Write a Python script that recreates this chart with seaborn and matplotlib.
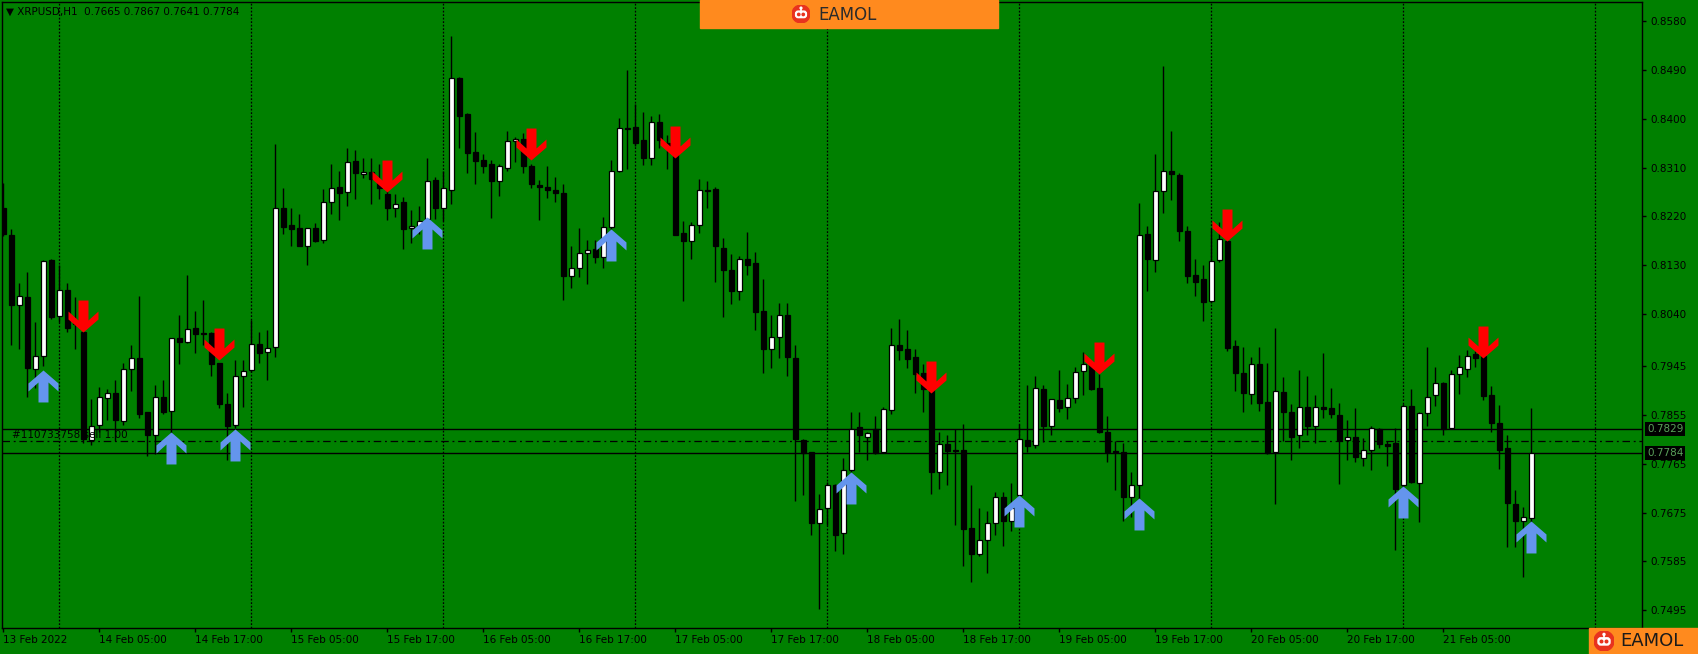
import matplotlib
matplotlib.use("Agg")
import matplotlib.pyplot as plt
import matplotlib.transforms as mtransforms
from matplotlib.path import Path
from matplotlib.patches import Rectangle, Circle, FancyBboxPatch
import seaborn as sns

# hourly XRPUSD bars (bar 0 = 13 Feb 17:00)
opens = [0.8236, 0.8186, 0.8057, 0.8071, 0.7939, 0.7964, 0.8139, 0.8036, 0.8084, 0.8025,
         0.8008, 0.7808, 0.7836, 0.7886, 0.7895, 0.7843, 0.7939, 0.7960, 0.7860, 0.7817,
         0.7888, 0.7862, 0.7996, 0.7989, 0.8015, 0.8006, 0.8006, 0.7951, 0.7875, 0.7836,
         0.7927, 0.7937, 0.7986, 0.7970, 0.7979, 0.8235, 0.8205, 0.8198, 0.8166, 0.8198,
         0.8177, 0.8247, 0.8274, 0.8265, 0.8322, 0.8298, 0.8301, 0.8286, 0.8261, 0.8236,
         0.8247, 0.8198, 0.8198, 0.8215, 0.8287, 0.8236, 0.8268, 0.8474, 0.8409, 0.8339,
         0.8324, 0.8317, 0.8286, 0.8310, 0.8358, 0.8363, 0.8312, 0.8277, 0.8274, 0.8268,
         0.8263, 0.8111, 0.8125, 0.8153, 0.8160, 0.8146, 0.8200, 0.8303, 0.8382, 0.8384,
         0.8360, 0.8327, 0.8393, 0.8356, 0.8339, 0.8189, 0.8174, 0.8205, 0.8268, 0.8270,
         0.8162, 0.8122, 0.8083, 0.8141, 0.8134, 0.8046, 0.7976, 0.7998, 0.8039, 0.7960,
         0.7808, 0.7786, 0.7655, 0.7684, 0.7726, 0.7638, 0.7754, 0.7832, 0.7815, 0.7828,
         0.7787, 0.7863, 0.7984, 0.7976, 0.7962, 0.7932, 0.7902, 0.7749, 0.7801, 0.7791,
         0.7791, 0.7646, 0.7599, 0.7625, 0.7655, 0.7703, 0.7659, 0.7708, 0.7808, 0.7800,
         0.7902, 0.7834, 0.7883, 0.7869, 0.7886, 0.7935, 0.7948, 0.7905, 0.7824, 0.7789,
         0.7786, 0.7703, 0.7726, 0.8187, 0.8139, 0.8266, 0.8303, 0.8296, 0.8194, 0.8113,
         0.8104, 0.8064, 0.8139, 0.8174, 0.7981, 0.7932, 0.7893, 0.7948, 0.7879, 0.7787,
         0.7897, 0.7860, 0.7817, 0.7870, 0.7834, 0.7869, 0.7867, 0.7855, 0.7808, 0.7814,
         0.7775, 0.7791, 0.7829, 0.7801, 0.7803, 0.7726, 0.7872, 0.7729, 0.7858, 0.7891,
         0.7913, 0.7830, 0.7930, 0.7940, 0.7966, 0.7963, 0.7891, 0.7839, 0.7793, 0.7690,
         0.7660, 0.7665]
highs = [0.8282, 0.8196, 0.8097, 0.8117, 0.8025, 0.8139, 0.8141, 0.8131, 0.8097, 0.8071,
         0.8018, 0.7884, 0.7907, 0.7902, 0.7919, 0.7951, 0.7983, 0.8074, 0.7860, 0.7909,
         0.7919, 0.7996, 0.8039, 0.8113, 0.8046, 0.8067, 0.8008, 0.7951, 0.7895, 0.7955,
         0.7955, 0.8029, 0.8008, 0.8011, 0.8353, 0.8273, 0.8236, 0.8224, 0.8199, 0.8208,
         0.8270, 0.8317, 0.8303, 0.8346, 0.8342, 0.8328, 0.8328, 0.8317, 0.8286, 0.8261,
         0.8256, 0.8231, 0.8240, 0.8328, 0.8293, 0.8303, 0.8552, 0.8476, 0.8411, 0.8376,
         0.8335, 0.8324, 0.8317, 0.8378, 0.8367, 0.8374, 0.8317, 0.8287, 0.8312, 0.8293,
         0.8280, 0.8165, 0.8198, 0.8177, 0.8177, 0.8219, 0.8324, 0.8402, 0.8490, 0.8427,
         0.8412, 0.8405, 0.8409, 0.8370, 0.8342, 0.8212, 0.8209, 0.8289, 0.8286, 0.8275,
         0.8180, 0.8150, 0.8148, 0.8191, 0.8155, 0.8104, 0.8038, 0.8060, 0.8060, 0.7984,
         0.7810, 0.7787, 0.7710, 0.7731, 0.7728, 0.7775, 0.7860, 0.7860, 0.7824, 0.7853,
         0.7870, 0.8015, 0.8032, 0.8011, 0.7976, 0.7948, 0.7906, 0.7824, 0.7817, 0.7828,
         0.7838, 0.7726, 0.7684, 0.7677, 0.7712, 0.7712, 0.7730, 0.7838, 0.7909, 0.7927,
         0.7909, 0.7884, 0.7937, 0.7912, 0.7942, 0.7970, 0.7951, 0.7930, 0.7853, 0.7807,
         0.7803, 0.7749, 0.8245, 0.8203, 0.8334, 0.8496, 0.8377, 0.8300, 0.8203, 0.8141,
         0.8131, 0.8198, 0.8210, 0.8177, 0.7993, 0.7979, 0.7962, 0.7979, 0.7951, 0.8015,
         0.7925, 0.7874, 0.7937, 0.7927, 0.7891, 0.7969, 0.7904, 0.7877, 0.7845, 0.7867,
         0.7812, 0.7834, 0.7831, 0.7807, 0.7831, 0.7874, 0.7902, 0.7860, 0.7979, 0.7943,
         0.7916, 0.7938, 0.7965, 0.7975, 0.7973, 0.7975, 0.7908, 0.7873, 0.7817, 0.7717,
         0.7685, 0.7867]
lows = [0.8184, 0.7983, 0.7976, 0.7888, 0.7905, 0.7944, 0.8032, 0.8025, 0.8008, 0.7976,
        0.7803, 0.7800, 0.7824, 0.7845, 0.7807, 0.7836, 0.7898, 0.7849, 0.7779, 0.7782,
        0.7856, 0.7821, 0.7948, 0.7987, 0.7969, 0.7983, 0.7927, 0.7867, 0.7772, 0.7831,
        0.7870, 0.7934, 0.7951, 0.7919, 0.7962, 0.8187, 0.8166, 0.8165, 0.8131, 0.8173,
        0.8172, 0.8224, 0.8213, 0.8240, 0.8252, 0.8291, 0.8243, 0.8252, 0.8214, 0.8219,
        0.8160, 0.8172, 0.8187, 0.8208, 0.8215, 0.8212, 0.8242, 0.8346, 0.8300, 0.8280,
        0.8300, 0.8217, 0.8258, 0.8303, 0.8321, 0.8300, 0.8272, 0.8214, 0.8254, 0.8247,
        0.8066, 0.8089, 0.8108, 0.8096, 0.8134, 0.8125, 0.8196, 0.8301, 0.8308, 0.8349,
        0.8314, 0.8314, 0.8346, 0.8307, 0.8186, 0.8064, 0.8141, 0.8189, 0.8235, 0.8099,
        0.8034, 0.8059, 0.8067, 0.8113, 0.8011, 0.7932, 0.7941, 0.7960, 0.7927, 0.7696,
        0.7708, 0.7634, 0.7497, 0.7653, 0.7604, 0.7599, 0.7750, 0.7786, 0.7772, 0.7782,
        0.7784, 0.7856, 0.7955, 0.7941, 0.7895, 0.7860, 0.7710, 0.7719, 0.7726, 0.7652,
        0.7576, 0.7548, 0.7596, 0.7564, 0.7634, 0.7613, 0.7641, 0.7666, 0.7786, 0.7793,
        0.7805, 0.7818, 0.7860, 0.7848, 0.7876, 0.7891, 0.7900, 0.7822, 0.7768, 0.7717,
        0.7660, 0.7666, 0.7694, 0.8083, 0.8117, 0.8226, 0.8250, 0.8174, 0.8097, 0.8074,
        0.8027, 0.8060, 0.8136, 0.7972, 0.7898, 0.7860, 0.7874, 0.7862, 0.7782, 0.7691,
        0.7807, 0.7772, 0.7793, 0.7818, 0.7803, 0.7849, 0.7849, 0.7728, 0.7772, 0.7768,
        0.7761, 0.7754, 0.7794, 0.7761, 0.7606, 0.7701, 0.7729, 0.7657, 0.7835, 0.7871,
        0.7817, 0.7829, 0.7893, 0.7925, 0.7943, 0.7882, 0.7824, 0.7756, 0.7611, 0.7611,
        0.7556, 0.7641]
closes = [0.8187, 0.8057, 0.8074, 0.7941, 0.7964, 0.8138, 0.8034, 0.8084, 0.8015, 0.8022,
          0.7810, 0.7835, 0.7888, 0.7895, 0.7845, 0.7939, 0.7960, 0.7856, 0.7817, 0.7888,
          0.7860, 0.7996, 0.7989, 0.8012, 0.8004, 0.8004, 0.7949, 0.7875, 0.7835, 0.7927,
          0.7935, 0.7986, 0.7969, 0.7977, 0.8235, 0.8201, 0.8196, 0.8166, 0.8198, 0.8174,
          0.8246, 0.8272, 0.8263, 0.8321, 0.8300, 0.8301, 0.8289, 0.8272, 0.8235, 0.8243,
          0.8196, 0.8203, 0.8212, 0.8286, 0.8236, 0.8272, 0.8474, 0.8405, 0.8336, 0.8322,
          0.8313, 0.8286, 0.8313, 0.8358, 0.8363, 0.8312, 0.8280, 0.8274, 0.8268, 0.8263,
          0.8110, 0.8125, 0.8152, 0.8159, 0.8146, 0.8200, 0.8303, 0.8382, 0.8381, 0.8356,
          0.8327, 0.8393, 0.8360, 0.8349, 0.8186, 0.8174, 0.8205, 0.8268, 0.8266, 0.8165,
          0.8122, 0.8083, 0.8141, 0.8131, 0.8045, 0.7976, 0.7998, 0.8038, 0.7962, 0.7810,
          0.7784, 0.7655, 0.7681, 0.7726, 0.7634, 0.7754, 0.7829, 0.7817, 0.7822, 0.7784,
          0.7865, 0.7983, 0.7974, 0.7958, 0.7930, 0.7902, 0.7749, 0.7801, 0.7789, 0.7789,
          0.7645, 0.7599, 0.7624, 0.7655, 0.7703, 0.7659, 0.7684, 0.7810, 0.7798, 0.7904,
          0.7834, 0.7884, 0.7867, 0.7886, 0.7934, 0.7948, 0.7902, 0.7824, 0.7787, 0.7786,
          0.7703, 0.7726, 0.8186, 0.8141, 0.8266, 0.8303, 0.8298, 0.8194, 0.8111, 0.8099,
          0.8062, 0.8138, 0.8179, 0.7977, 0.7932, 0.7895, 0.7948, 0.7876, 0.7784, 0.7898,
          0.7860, 0.7815, 0.7870, 0.7834, 0.7869, 0.7865, 0.7856, 0.7808, 0.7815, 0.7777,
          0.7791, 0.7831, 0.7801, 0.7798, 0.7719, 0.7872, 0.7731, 0.7858, 0.7888, 0.7913,
          0.7829, 0.7930, 0.7942, 0.7964, 0.7960, 0.7890, 0.7839, 0.7791, 0.7692, 0.7660,
          0.7666, 0.7784]

# signal arrows: bar index and the price of the arrow tip
up_bars = [5, 21, 29, 53, 76, 106, 127, 142, 175, 191]
up_prices = [0.7937, 0.7824, 0.7828, 0.8219, 0.8196, 0.7750, 0.7708, 0.7701, 0.7724, 0.7660]
down_bars = [10, 27, 48, 66, 84, 116, 137, 153, 185]
down_prices = [0.8008, 0.7955, 0.8265, 0.8324, 0.8328, 0.7895, 0.7930, 0.8174, 0.7960]

day_breaks = [7, 31, 55, 79, 103, 127, 151, 175, 199]
date_ticks = [0, 12, 24, 36, 48, 60, 72, 84, 96, 108, 120, 132, 144, 156, 168, 180]
date_labels = ["13 Feb 2022", "14 Feb 05:00", "14 Feb 17:00", "15 Feb 05:00",
               "15 Feb 17:00", "16 Feb 05:00", "16 Feb 17:00", "17 Feb 05:00",
               "17 Feb 17:00", "18 Feb 05:00", "18 Feb 17:00", "19 Feb 05:00",
               "19 Feb 17:00", "20 Feb 05:00", "20 Feb 17:00", "21 Feb 05:00"]
price_ticks = [0.8580, 0.8490, 0.8400, 0.8310, 0.8220, 0.8130, 0.8040,
               0.7945, 0.7855, 0.7765, 0.7675, 0.7585, 0.7495]

ask_price = 0.7829
bid_price = 0.7784
order_price = 0.7806
order_label = "#110733758 sell 1.00"
header = "\u25bc XRPUSD,H1  0.7665 0.7867 0.7641 0.7784"

GREEN = "#008000"
ORANGE = "#FF8A1E"
W, H = 1698, 654

sns.set_theme(style="ticks", rc={
    "axes.facecolor": GREEN,
    "figure.facecolor": GREEN,
    "axes.edgecolor": "black",
    "axes.linewidth": 1.0,
    "xtick.color": "black",
    "ytick.color": "black",
})
plt.rcParams["font.family"] = ["DejaVu Sans"]

fig = plt.figure(figsize=(W / 100, H / 100), dpi=100)
ax = fig.add_axes([2 / W, 1 - 628 / H, 1640 / W, 626 / H])

idx = list(range(len(opens)))

# wicks
ax.vlines(idx, lows, highs, color="black", lw=1.0, zorder=3)

# bodies
bottoms = [min(o, c) for o, c in zip(opens, closes)]
heights = [max(abs(c - o), 0.00012) for o, c in zip(opens, closes)]
colors = ["white" if c >= o else "black" for o, c in zip(opens, closes)]
ax.bar(idx, heights, bottom=bottoms, width=0.62, color=colors,
       edgecolor="black", linewidth=0.9, zorder=4)

# day separators
for d in day_breaks:
    ax.axvline(d, color="black", lw=0.9, ls=(0, (1.4, 1.4)), zorder=1)

# price lines
ax.axhline(ask_price, color="black", lw=1.0, zorder=2)
ax.axhline(bid_price, color="black", lw=1.0, zorder=2)
ax.axhline(order_price, color="black", lw=0.9, ls=(0, (6, 3, 1.5, 3)), zorder=2)
ax.text(1.1, order_price + 0.0003, order_label, fontsize=7.5, color="black",
        va="bottom", ha="left", zorder=5)

# arrow markers (tip at origin)
up_path = Path([(0, 0), (15, -13), (15, -21), (5, -12), (5, -32), (-5, -32),
                (-5, -12), (-15, -21), (-15, -13), (0, 0)],
               [Path.MOVETO] + [Path.LINETO] * 8 + [Path.CLOSEPOLY])
down_path = Path([(x, -y) for x, y in up_path.vertices], up_path.codes)
sns.scatterplot(x=up_bars, y=up_prices, marker=up_path, s=2120,
                color="#6495ED", linewidth=0, legend=False, ax=ax, zorder=6)
sns.scatterplot(x=down_bars, y=down_prices, marker=down_path, s=2120,
                color="#FF0000", linewidth=0, legend=False, ax=ax, zorder=6)

ax.set_xlim(-0.16, 204.84)
ax.set_ylim(0.74626, 0.86146)

ax.yaxis.tick_right()
ax.set_yticks(price_ticks)
ax.set_yticklabels([f"{p:.4f}" for p in price_ticks])
ax.tick_params(axis="y", length=3, width=1, pad=3, labelsize=7.5)
ax.set_xticks(date_ticks)
ax.set_xticklabels(date_labels)
for lab in ax.get_xticklabels():
    lab.set_ha("left")
ax.tick_params(axis="x", length=3, width=1, pad=2, labelsize=7.5)
ax.set_xlabel("")
ax.set_ylabel("")
for sp in ax.spines.values():
    sp.set_visible(True)
    sp.set_color("black")

# price boxes on the axis
tr = mtransforms.blended_transform_factory(ax.transAxes, ax.transData)
for p in (ask_price, bid_price):
    ax.text(1.003, p, f"{p:.4f}", transform=tr, fontsize=7.5, color="#5aa05a",
            va="center", ha="left", zorder=10, clip_on=False,
            bbox=dict(boxstyle="square,pad=0.2", fc="black", ec="none"))

fig.text(6 / W, 1 - 12 / H, header, fontsize=7.5, color="black", va="center", ha="left")


def draw_logo(cx, cy, r):
    lax = fig.add_axes([(cx - r) / W, 1 - (cy + r) / H, 2 * r / W, 2 * r / H], zorder=20)
    lax.set_xlim(-1, 1)
    lax.set_ylim(-1, 1)
    lax.axis("off")
    lax.add_patch(Circle((0, 0), 1, color="#E8321E"))
    lax.add_patch(FancyBboxPatch((-0.55, -0.35), 1.1, 0.62,
                                 boxstyle="round,pad=0.05,rounding_size=0.28", color="white"))
    lax.add_patch(Circle((-0.25, -0.05), 0.13, color="#E8321E"))
    lax.add_patch(Circle((0.25, -0.05), 0.13, color="#E8321E"))
    lax.plot([0, 0], [0.3, 0.62], color="white", lw=1.2)
    lax.add_patch(Circle((0, 0.66), 0.1, color="white"))


# top banner
fig.add_artist(Rectangle((700 / W, 1 - 28 / H), 298 / W, 28 / H,
                         transform=fig.transFigure, color=ORANGE, zorder=15))
draw_logo(801, 14, 9)
fig.text(818 / W, 1 - 15 / H, "EAMOL", fontsize=12, color="#2b2b2b",
         va="center", ha="left", zorder=21)

# bottom-right badge
fig.add_artist(Rectangle((1589 / W, 0), 109 / W, 26 / H,
                         transform=fig.transFigure, color=ORANGE, zorder=15))
draw_logo(1604, 641, 10)
fig.text(1620 / W, 13 / H, "EAMOL", fontsize=13, color="#1a1a1a",
         va="center", ha="left", zorder=21)

fig.savefig("out.png", dpi=100, facecolor=fig.get_facecolor())
